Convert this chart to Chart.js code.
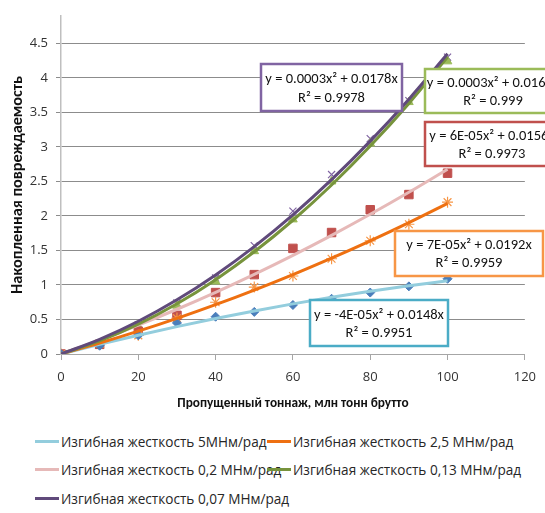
<!DOCTYPE html>
<html>
<head>
<meta charset="utf-8">
<script src="https://cdn.jsdelivr.net/npm/chart.js@4.4.1/dist/chart.umd.min.js"></script>
<style>
  html, body { margin: 0; padding: 0; background: #fff; }
  #wrap { position: relative; width: 545px; height: 513px; }
  #chart { position: absolute; left: 0; top: 0; }
  #legend {
    position: absolute; left: 35px; top: 431px; width: 505px;
    display: grid; grid-template-columns: 232px 273px; row-gap: 8.5px;
    font: 13.6px 'Open Sans', sans-serif; color: #262626;
  }
  #legend .item { display: flex; align-items: center; white-space: nowrap; height: 20px; }
  #legend .swatch { flex: 0 0 24px; height: 3px; margin-right: 2px; }
</style>
</head>
<body>
<div id="wrap">
  <canvas id="chart" width="545" height="420"></canvas>
  <div id="legend"></div>
</div>
<script>
// данные
const tonnage = [0, 10, 20, 30, 40, 50, 60, 70, 80, 90, 100];
const stiff5 = [0, 0.12, 0.27, 0.45, 0.54, 0.61, 0.71, 0.80, 0.89, 0.98, 1.09];
const stiff25 = [0, 0.15, 0.27, 0.52, 0.75, 0.97, 1.13, 1.38, 1.64, 1.88, 2.20];
const stiff02 = [0, 0.14, 0.33, 0.56, 0.89, 1.15, 1.53, 1.76, 2.09, 2.31, 2.62];
const stiff013 = [0, 0.12, 0.40, 0.70, 1.05, 1.49, 1.95, 2.50, 3.05, 3.65, 4.24];
const stiff007 = [0, 0.14, 0.42, 0.74, 1.10, 1.57, 2.07, 2.60, 3.12, 3.67, 4.30];
const seriesNames = [
  'Изгибная жесткость 5МНм/рад',
  'Изгибная жесткость 2,5 МНм/рад',
  'Изгибная жесткость 0,2 МНм/рад',
  'Изгибная жесткость 0,13 МНм/рад',
  'Изгибная жесткость 0,07 МНм/рад'
];
const xTicks = [0, 20, 40, 60, 80, 100, 120];
const yTicks = [0, 0.5, 1, 1.5, 2, 2.5, 3, 3.5, 4, 4.5];

const FONT = "Carlito, Lato, 'Liberation Sans', sans-serif";
const TICK_FONT = "'Open Sans', sans-serif";

const styles = [
  { line: '#93CDDD', marker: '#4A7EBB', shape: 'rectRot', r: 4.5 },
  { line: '#EE7011', marker: '#F79646', shape: 'star', r: 5.5 },
  { line: '#E6B9B8', marker: '#C0504D', shape: 'rect', r: 6 },
  { line: '#77933C', marker: '#9BBB59', shape: 'triangle', r: 5 },
  { line: '#604A7B', marker: '#8064A2', shape: 'crossRot', r: 5 }
];

// подписи линий тренда (как в исходнике)
const trendLabels = [
  { x: 310, y: 300, w: 138, h: 46, color: '#4BACC6', l1: 'y = -4E-05x² + 0.0148x', l2: 'R² = 0.9951' },
  { x: 395, y: 231, w: 148, h: 45, color: '#F79646', l1: 'y = 7E-05x² + 0.0192x', l2: 'R² = 0.9959' },
  { x: 425, y: 122, w: 134, h: 44, color: '#C0504D', l1: 'y = 6E-05x² + 0.0156x', l2: 'R² = 0.9973' },
  { x: 425, y: 69, w: 136, h: 44, color: '#9BBB59', l1: 'y = 0.0003x² + 0.0163x', l2: 'R² = 0.999' },
  { x: 261, y: 64, w: 141, h: 47, color: '#8064A2', l1: 'y = 0.0003x² + 0.0178x', l2: 'R² = 0.9978' }
];

// полиномиальный тренд 2-й степени через начало координат
function fitPoly(xs, ys) {
  let s2 = 0, s3 = 0, s4 = 0, sxy = 0, sx2y = 0;
  xs.forEach((x, i) => {
    s2 += x * x; s3 += x * x * x; s4 += x * x * x * x;
    sxy += x * ys[i]; sx2y += x * x * ys[i];
  });
  const det = s4 * s2 - s3 * s3;
  const a = (sx2y * s2 - s3 * sxy) / det;
  const b = (s4 * sxy - s3 * sx2y) / det;
  return xs.map(x => ({ x: x, y: a * x * x + b * x }));
}

const allSeries = [stiff5, stiff25, stiff02, stiff013, stiff007];
const datasets = [];
allSeries.forEach((vals, i) => {
  const st = styles[i];
  datasets.push({
    label: seriesNames[i],
    data: tonnage.map((x, j) => ({ x: x, y: vals[j] })),
    showLine: false,
    pointStyle: st.shape,
    pointRadius: st.r,
    pointBackgroundColor: st.marker,
    pointBorderColor: st.marker,
    pointBorderWidth: (st.shape === 'star' || st.shape === 'crossRot') ? 1.2 : 1,
    order: 10
  });
});
allSeries.forEach((vals, i) => {
  datasets.push({
    label: 'trend ' + i,
    data: fitPoly(tonnage, vals),
    showLine: true,
    borderColor: styles[i].line,
    borderWidth: 3,
    pointRadius: 0,
    cubicInterpolationMode: 'monotone',
    order: 5 - i
  });
});

const labelBoxes = {
  id: 'labelBoxes',
  afterDatasetsDraw(chart) {
    const ctx = chart.ctx;
    ctx.save();
    trendLabels.forEach(b => {
      ctx.fillStyle = '#fff';
      ctx.fillRect(b.x, b.y, b.w, b.h);
      ctx.strokeStyle = b.color;
      ctx.lineWidth = 2.5;
      ctx.strokeRect(b.x, b.y, b.w, b.h);
      ctx.fillStyle = '#111';
      ctx.font = '14.5px ' + FONT;
      ctx.textAlign = 'center';
      ctx.textBaseline = 'middle';
      ctx.fillText(b.l1, b.x + b.w / 2, b.y + b.h * 0.33);
      ctx.fillText(b.l2, b.x + b.w / 2, b.y + b.h * 0.73);
    });
    ctx.restore();
  }
};

new Chart(document.getElementById('chart').getContext('2d'), {
  type: 'scatter',
  data: { datasets: datasets },
  options: {
    responsive: false,
    animation: false,
    layout: { padding: { top: 12, right: 11, left: 0, bottom: 8 } },
    plugins: {
      legend: { display: false },
      tooltip: { enabled: false }
    },
    scales: {
      x: {
        type: 'linear',
        min: 0, max: 120,
        afterBuildTicks: s => { s.ticks = xTicks.map(v => ({ value: v })); },
        afterFit: s => { s.height = 58; },
        grid: { drawOnChartArea: false, drawTicks: true, tickLength: 6, color: '#a6a6a6' },
        border: { color: '#a6a6a6', width: 1 },
        ticks: { color: '#333', font: { family: TICK_FONT, size: 13 }, padding: 9, maxRotation: 0, callback: v => String(v) },
        title: {
          display: true, text: 'Пропущенный тоннаж, млн тонн брутто',
          color: '#111', font: { family: FONT, size: 13.3, weight: 'bold' }, padding: { top: 0, bottom: 0 }
        }
      },
      y: {
        type: 'linear',
        min: 0, max: 4.9,
        afterBuildTicks: s => { s.ticks = yTicks.map(v => ({ value: v })); },
        afterFit: s => { s.width = 61; },
        grid: { color: '#8c8c8c', tickLength: 5, lineWidth: 1 },
        border: { color: '#bfbfbf', width: 1.5 },
        ticks: { color: '#333', font: { family: TICK_FONT, size: 13 }, padding: 8, callback: v => String(v) },
        title: {
          display: true, text: 'Накопленная повреждаемость',
          color: '#111', font: { family: FONT, size: 16.2, weight: 'bold' }, padding: { top: 8, bottom: 0 }
        }
      }
    }
  },
  plugins: [labelBoxes]
});

// легенда
const legendEl = document.getElementById('legend');
seriesNames.forEach((name, i) => {
  const item = document.createElement('div');
  item.className = 'item';
  item.innerHTML = '<span class="swatch" style="background:' + styles[i].line + '"></span>' + name;
  legendEl.appendChild(item);
});
</script>
</body>
</html>
